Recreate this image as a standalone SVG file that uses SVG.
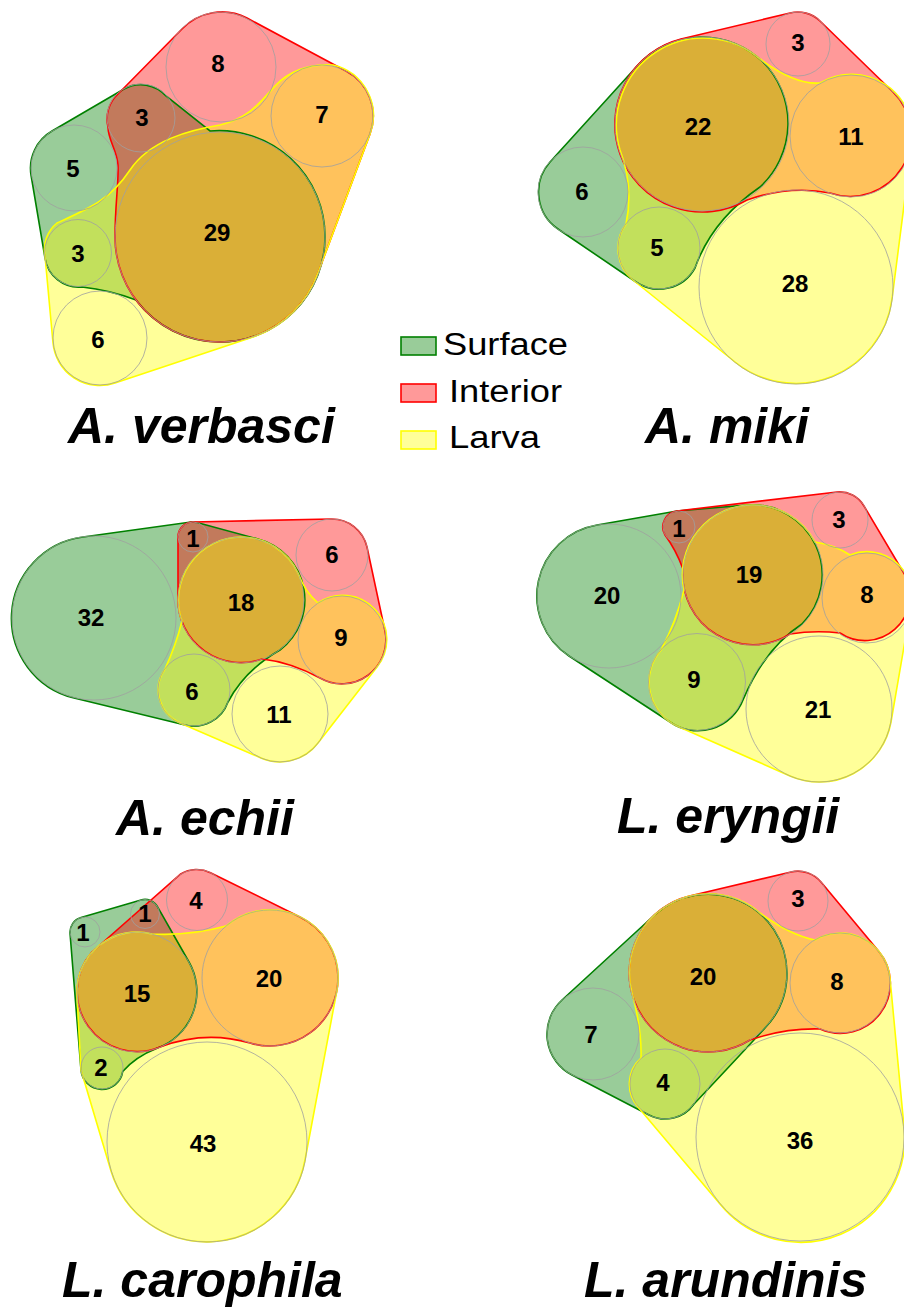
<svg xmlns="http://www.w3.org/2000/svg" xmlns:xlink="http://www.w3.org/1999/xlink" width="904" height="1309" viewBox="0 0 904 1309">
<style>
.gf{fill:#008000;fill-opacity:.4;stroke:none}
.rf{fill:#ff0000;fill-opacity:.4;stroke:none}
.yf{fill:#ffff00;fill-opacity:.4;stroke:none}
.gs{fill:none;stroke:#008000;stroke-width:1.6}
.rs{fill:none;stroke:#ff0000;stroke-width:1.6}
.ys{fill:none;stroke:#ffff00;stroke-width:1.6}
.c{fill:none;stroke:#a0a0a0;stroke-width:.8}
.n{font-family:"Liberation Sans",Arial,sans-serif;font-weight:bold;font-size:24px;text-anchor:middle;fill:#000}
.t{font-family:"Liberation Sans",Arial,sans-serif;font-weight:bold;font-style:italic;font-size:50px;fill:#000}
.l{font-family:"Liberation Sans",Arial,sans-serif;font-size:31px;fill:#000}
</style>
<defs>
<path id="g1" d="M 52,131 L 124,89 A 34 34 0 0 1 166,96 Q 186,112 210,131 A 106 106 0 0 1 325,237 A 105 105 0 0 1 220,342 A 105 105 0 0 1 136,300 Q 110,290 82,287 A 34 34 0 0 1 45,258 L 31,175 A 43 43 0 0 1 52,131 Z"/>
<path id="r1" d="M 118,94 L 182,29 A 55 55 0 0 1 247,18 L 346,71 A 51 51 0 0 1 370,134 L 318,273 A 105 105 0 0 1 220,342 A 105 105 0 0 1 115,237 C 115,205 119,180 118,165 C 117,150 108,140 108,127 A 34 34 0 0 1 118,94 Z"/>
<path id="y1" d="M 57,223 C 90,208 110,200 130,170 C 150,140 190,130 220,125 C 250,118 262,100 275,86 C 290,70 310,64 333,65 A 52 52 0 0 1 370,134 L 318,273 A 105 105 0 0 1 253,337 L 115,383 A 47 47 0 0 1 53,343 L 45,256 A 34 34 0 0 1 57,223 Z"/>
<path id="r2" d="M 681,39 L 790,13 A 32 32 0 0 1 820,21 L 893,92 A 61 61 0 0 1 830,193 Q 790,185 747,200 A 88 88 0 0 1 620,154 A 88 88 0 0 1 681,39 Z"/>
<path id="g2" d="M 550,162 L 638,65 A 87 87 0 0 1 763,62 A 87 87 0 0 1 760,187 Q 712,220 695,268 A 41 41 0 0 1 636,282 L 558,229 A 45 45 0 0 1 550,162 Z"/>
<path id="y2" d="M 633,280 A 41 41 0 0 1 626,224 Q 634,187 620,150 A 87 87 0 0 1 760,59 Q 795,85 820,83 A 61 61 0 0 1 912,143 L 892,299 A 97 97 0 0 1 735,362 Z"/>
<path id="g3" d="M 83,537 L 191,522 L 197,522.5 L 258,539 A 63 63 0 0 1 280,650 Q 245,670 228,702 A 36 36 0 0 1 185,725 L 74,698 A 82 82 0 0 1 83,537 Z"/>
<path id="r3" d="M 178,600 L 178,537 A 15 15 0 0 1 193,522 L 331,519 A 36 36 0 0 1 367,547 L 385,631 A 44 44 0 0 1 320,678 Q 290,662 262,659 A 63 63 0 0 1 178,600 Z"/>
<path id="y3" d="M 180,723 A 36 36 0 0 1 165,669 Q 176,645 182,621 A 63 63 0 0 1 241,537 A 63 63 0 0 1 298,573 Q 305,592 318,603 A 44 44 0 0 1 377,667 L 318,743 A 48 48 0 0 1 261,758 Z"/>
<path id="g4" d="M 597,525 L 677,511 L 747,505 A 70 70 0 0 1 802,624 Q 765,648 743,700 A 48.5 48.5 0 0 1 670,722 L 569,656 A 72 72 0 0 1 597,525 Z"/>
<path id="r4" d="M 677,511 L 837,492 A 28 28 0 0 1 864,506 L 905,575 A 45 45 0 0 1 840,633 Q 815,630 790,634 A 70 70 0 0 1 683,569 Q 676,550 665,535 A 16 16 0 0 1 677,511 Z"/>
<path id="y4" d="M 677,726 A 48.5 48.5 0 0 1 661,650 Q 676,622 684,590 A 70 70 0 0 1 753,505 A 70 70 0 0 1 815,542 Q 835,545 850,555 A 45 45 0 0 1 911,606 L 891,722 A 73 73 0 0 1 790,776 Z"/>
<path id="g5" d="M 70,933 A 15 15 0 0 1 81,917.6 L 141,900 A 14.5 14.5 0 0 1 157.6,906.8 L 189,962 A 60 60 0 0 1 157.5,1048 Q 135,1057 122.7,1071.6 A 21 21 0 0 1 81,1070 Z"/>
<path id="r5" d="M 92,952 L 180.7,874 A 30.5 30.5 0 0 1 210.5,872.7 L 300,917 A 68 68 0 0 1 338,978 A 68 68 0 0 1 250,1043 Q 205,1030 160,1047 A 60 60 0 0 1 92,952 Z"/>
<path id="y5" d="M 77,995 A 60 60 0 0 1 152,934 Q 190,936 226,926 A 68 68 0 0 1 337,990 L 305,1160 A 100 100 0 0 1 111,1171 L 81,1070 Z"/>
<path id="r6" d="M 689.5,896 L 791,872 A 30 30 0 0 1 821,882 L 878.5,951 A 50 50 0 0 1 820,1029 Q 785,1028 750,1040 A 79 79 0 0 1 634,1000 A 79 79 0 0 1 689.5,896 Z"/>
<path id="g6" d="M 562,1000 L 654.5,915 A 79 79 0 0 1 787,973 A 79 79 0 0 1 765,1028 Q 728,1068 694,1104 A 35 35 0 0 1 649,1115 L 572,1075 A 46 46 0 0 1 562,1000 Z"/>
<path id="y6" d="M 638,1107 A 35 35 0 0 1 641,1058 Q 642,1030 632,993 A 79 79 0 0 1 760,913 Q 790,935 815,940 A 50 50 0 0 1 890,978 L 904,1127 A 104 104 0 0 1 720,1204 Z"/>
</defs>
<rect width="904" height="1309" fill="#fff"/>

<g id="panel-verbasci">
<use xlink:href="#g1" class="gf"/><use xlink:href="#r1" class="rf"/><use xlink:href="#y1" class="yf"/>
<use xlink:href="#g1" class="gs"/><use xlink:href="#r1" class="rs"/><use xlink:href="#y1" class="ys"/>
<circle class="c" cx="221" cy="67" r="55"/><circle class="c" cx="322" cy="116" r="51"/><circle class="c" cx="141" cy="118" r="34"/><circle class="c" cx="74" cy="168" r="43"/><circle class="c" cx="220" cy="237" r="105"/><circle class="c" cx="78" cy="253" r="33.5"/><circle class="c" cx="100" cy="338" r="47"/>
<text class="n" x="218" y="72">8</text><text class="n" x="322" y="123">7</text><text class="n" x="142" y="126">3</text><text class="n" x="73" y="177">5</text><text class="n" x="217" y="241">29</text><text class="n" x="78" y="262">3</text><text class="n" x="98" y="348">6</text>
<text class="t" x="68" y="443">A. verbasci</text>
</g>

<g id="panel-miki">
<use xlink:href="#g2" class="gf"/><use xlink:href="#r2" class="rf"/><use xlink:href="#y2" class="yf"/>
<use xlink:href="#g2" class="gs"/><use xlink:href="#r2" class="rs"/><use xlink:href="#y2" class="ys"/>
<circle class="c" cx="798" cy="44" r="32"/><circle class="c" cx="702" cy="124" r="87"/><circle class="c" cx="851" cy="136" r="61"/><circle class="c" cx="583" cy="192" r="45"/><circle class="c" cx="659" cy="248" r="41"/><circle class="c" cx="796" cy="287" r="97"/>
<text class="n" x="798" y="51">3</text><text class="n" x="698" y="135">22</text><text class="n" x="851" y="145">11</text><text class="n" x="582" y="200">6</text><text class="n" x="657" y="256">5</text><text class="n" x="795" y="292">28</text>
<text class="t" x="645" y="443">A. miki</text>
</g>

<g id="legend">
<rect x="401" y="337" width="35" height="18" class="gf"/><rect x="401" y="337" width="35" height="18" class="gs"/>
<rect x="401" y="384" width="35" height="18" class="rf"/><rect x="401" y="384" width="35" height="18" class="rs"/>
<rect x="401" y="431" width="35" height="18" class="yf"/><rect x="401" y="431" width="35" height="18" class="ys"/>
<text class="l" x="443" y="355" textLength="125" lengthAdjust="spacingAndGlyphs">Surface</text>
<text class="l" x="449" y="402" textLength="113" lengthAdjust="spacingAndGlyphs">Interior</text>
<text class="l" x="449" y="448" textLength="91" lengthAdjust="spacingAndGlyphs">Larva</text>
</g>

<g id="panel-echii">
<use xlink:href="#g3" class="gf"/><use xlink:href="#r3" class="rf"/><use xlink:href="#y3" class="yf"/>
<use xlink:href="#g3" class="gs"/><use xlink:href="#r3" class="rs"/><use xlink:href="#y3" class="ys"/>
<circle class="c" cx="94" cy="618" r="82"/><circle class="c" cx="193" cy="537" r="15"/><circle class="c" cx="241" cy="600" r="63"/><circle class="c" cx="332" cy="555" r="36"/><circle class="c" cx="342" cy="640" r="44"/><circle class="c" cx="194" cy="690" r="36"/><circle class="c" cx="280" cy="714" r="48"/>
<text class="n" x="91" y="626">32</text><text class="n" x="193" y="547">1</text><text class="n" x="241" y="611">18</text><text class="n" x="332" y="563">6</text><text class="n" x="341" y="646">9</text><text class="n" x="192" y="700">6</text><text class="n" x="279" y="723">11</text>
<text class="t" x="116" y="835">A. echii</text>
</g>

<g id="panel-eryngii">
<use xlink:href="#g4" class="gf"/><use xlink:href="#r4" class="rf"/><use xlink:href="#y4" class="yf"/>
<use xlink:href="#g4" class="gs"/><use xlink:href="#r4" class="rs"/><use xlink:href="#y4" class="ys"/>
<circle class="c" cx="609" cy="596" r="72"/><circle class="c" cx="679" cy="527" r="16"/><circle class="c" cx="753" cy="575" r="70"/><circle class="c" cx="840" cy="520" r="28"/><circle class="c" cx="867" cy="598" r="45"/><circle class="c" cx="697" cy="682" r="48.5"/><circle class="c" cx="819" cy="709" r="73"/>
<text class="n" x="607" y="604">20</text><text class="n" x="679" y="537">1</text><text class="n" x="749" y="583">19</text><text class="n" x="839" y="528">3</text><text class="n" x="867" y="603">8</text><text class="n" x="694" y="688">9</text><text class="n" x="818" y="718">21</text>
<text class="t" x="617" y="833">L. eryngii</text>
</g>

<g id="panel-carophila">
<use xlink:href="#g5" class="gf"/><use xlink:href="#r5" class="rf"/><use xlink:href="#y5" class="yf"/>
<use xlink:href="#g5" class="gs"/><use xlink:href="#r5" class="rs"/><use xlink:href="#y5" class="ys"/>
<circle class="c" cx="85" cy="932" r="15"/><circle class="c" cx="145" cy="914" r="14.5"/><circle class="c" cx="197" cy="900" r="30.5"/><circle class="c" cx="137" cy="992" r="60"/><circle class="c" cx="270" cy="978" r="68"/><circle class="c" cx="102" cy="1068" r="21"/><circle class="c" cx="207" cy="1142" r="100"/>
<text class="n" x="83" y="941">1</text><text class="n" x="145" y="922">1</text><text class="n" x="196" y="909">4</text><text class="n" x="137" y="1002">15</text><text class="n" x="269" y="987">20</text><text class="n" x="101" y="1076">2</text><text class="n" x="203" y="1152">43</text>
<text class="t" x="62" y="1297">L. carophila</text>
</g>

<g id="panel-arundinis">
<use xlink:href="#g6" class="gf"/><use xlink:href="#r6" class="rf"/><use xlink:href="#y6" class="yf"/>
<use xlink:href="#g6" class="gs"/><use xlink:href="#r6" class="rs"/><use xlink:href="#y6" class="ys"/>
<circle class="c" cx="798" cy="901" r="30"/><circle class="c" cx="708" cy="973" r="79"/><circle class="c" cx="840" cy="983" r="50"/><circle class="c" cx="593" cy="1034" r="46"/><circle class="c" cx="665" cy="1084" r="35"/><circle class="c" cx="800" cy="1137" r="104"/>
<text class="n" x="798" y="907">3</text><text class="n" x="703" y="985">20</text><text class="n" x="837" y="990">8</text><text class="n" x="591" y="1043">7</text><text class="n" x="663" y="1091">4</text><text class="n" x="800" y="1149">36</text>
<text class="t" x="584" y="1297">L. arundinis</text>
</g>
</svg>
